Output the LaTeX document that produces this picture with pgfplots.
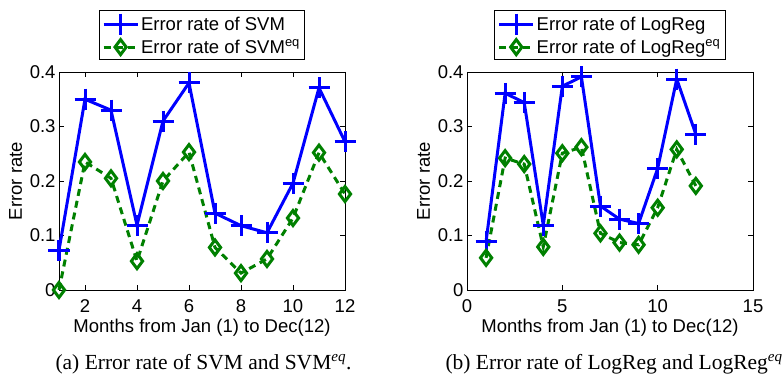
\documentclass[border=0pt]{standalone}
\usepackage{fontspec}
\setmainfont{Liberation Sans}
\newfontfamily\capfont{Liberation Serif}
\usepackage{pgfplots}
\pgfplotsset{compat=1.18}
\definecolor{mblue}{rgb}{0,0,1}
\definecolor{mgreen}{rgb}{0,0.5,0}
\pgfplotsset{
 myax/.style={
  scale only axis, width=286bp, height=218bp,
  ymin=0, ymax=0.4, ytick={0,0.1,0.2,0.3,0.4}, yticklabels={0,0.1,0.2,0.3,0.4},
  font=\fontsize{18.5bp}{22bp}\selectfont,
  tick align=inside, major tick length=5bp,
  axis line style={line width=0.9bp},
  every tick/.style={black, line width=0.9bp},
  clip=false,
  xlabel={Months from Jan (1) to Dec(12)},
  ylabel={Error rate},
  xlabel style={at={(axis description cs:0.5,-0.1927)}, anchor=base},
  ylabel style={at={(axis description cs:-0.1294,0.5)}, anchor=base},
  xticklabel style={anchor=base, yshift=-23bp},
  legend cell align=left,
  legend style={at={(0.5,1)}, anchor=south, yshift=12bp, draw=black, line width=0.9bp,
    inner xsep=3bp, inner ysep=3bp, row sep=3bp,
    font=\fontsize{18.5bp}{22bp}\selectfont},
  legend image code/.code={\draw[mark repeat=2,mark phase=2,#1] plot coordinates {(0bp,0bp)(17bp,0bp)(34bp,0bp)};},
  /pgf/number format/assume math mode=true,
 },
 svm/.style={mblue, line width=3bp, mark=+, mark size=10.5bp, mark options={solid}},
 eqs/.style={mgreen, line width=3bp, dash pattern=on 7bp off 5bp, mark=diamond, mark size=7.5bp, mark options={solid}},
}
\begin{document}
\begin{tikzpicture}
\useasboundingbox (0,0) rectangle (784bp,375bp);
\begin{axis}[myax, at={(59bp,85bp)}, anchor=south west,
  xmin=1, xmax=12, xtick={2,4,6,8,10,12}]
\addplot[svm] coordinates {(1,0.073) (2,0.350) (3,0.330) (4,0.119) (5,0.310) (6,0.380) (7,0.141) (8,0.118) (9,0.105) (10,0.196) (11,0.371) (12,0.272)};
\addlegendentry{Error rate of SVM}
\addplot[eqs] coordinates {(1,0.000) (2,0.235) (3,0.205) (4,0.053) (5,0.200) (6,0.253) (7,0.078) (8,0.031) (9,0.057) (10,0.132) (11,0.252) (12,0.176)};
\addlegendentry{Error rate of SVM\textsuperscript{eq}}
\end{axis}
\begin{axis}[myax, at={(467bp,85bp)}, anchor=south west,
  xmin=0, xmax=15, xtick={0,5,10,15}, xticklabels={0,5,10,15}]
\addplot[svm] coordinates {(1,0.089) (2,0.361) (3,0.344) (4,0.119) (5,0.374) (6,0.391) (7,0.154) (8,0.130) (9,0.122) (10,0.223) (11,0.387) (12,0.286)};
\addlegendentry{Error rate of LogReg}
\addplot[eqs] coordinates {(1,0.059) (2,0.242) (3,0.231) (4,0.079) (5,0.251) (6,0.262) (7,0.104) (8,0.087) (9,0.083) (10,0.151) (11,0.258) (12,0.191)};
\addlegendentry{Error rate of LogReg\textsuperscript{eq}}
\end{axis}
\node[anchor=base west, font=\capfont\fontsize{21.5bp}{24bp}\selectfont] at (52bp,6bp) {(a) Error rate of SVM and SVM\textsuperscript{\itshape eq}.};
\node[anchor=base west, font=\capfont\fontsize{21.5bp}{24bp}\selectfont] at (442bp,6bp) {(b) Error rate of LogReg and LogReg\textsuperscript{\itshape eq}};
\end{tikzpicture}
\end{document}
